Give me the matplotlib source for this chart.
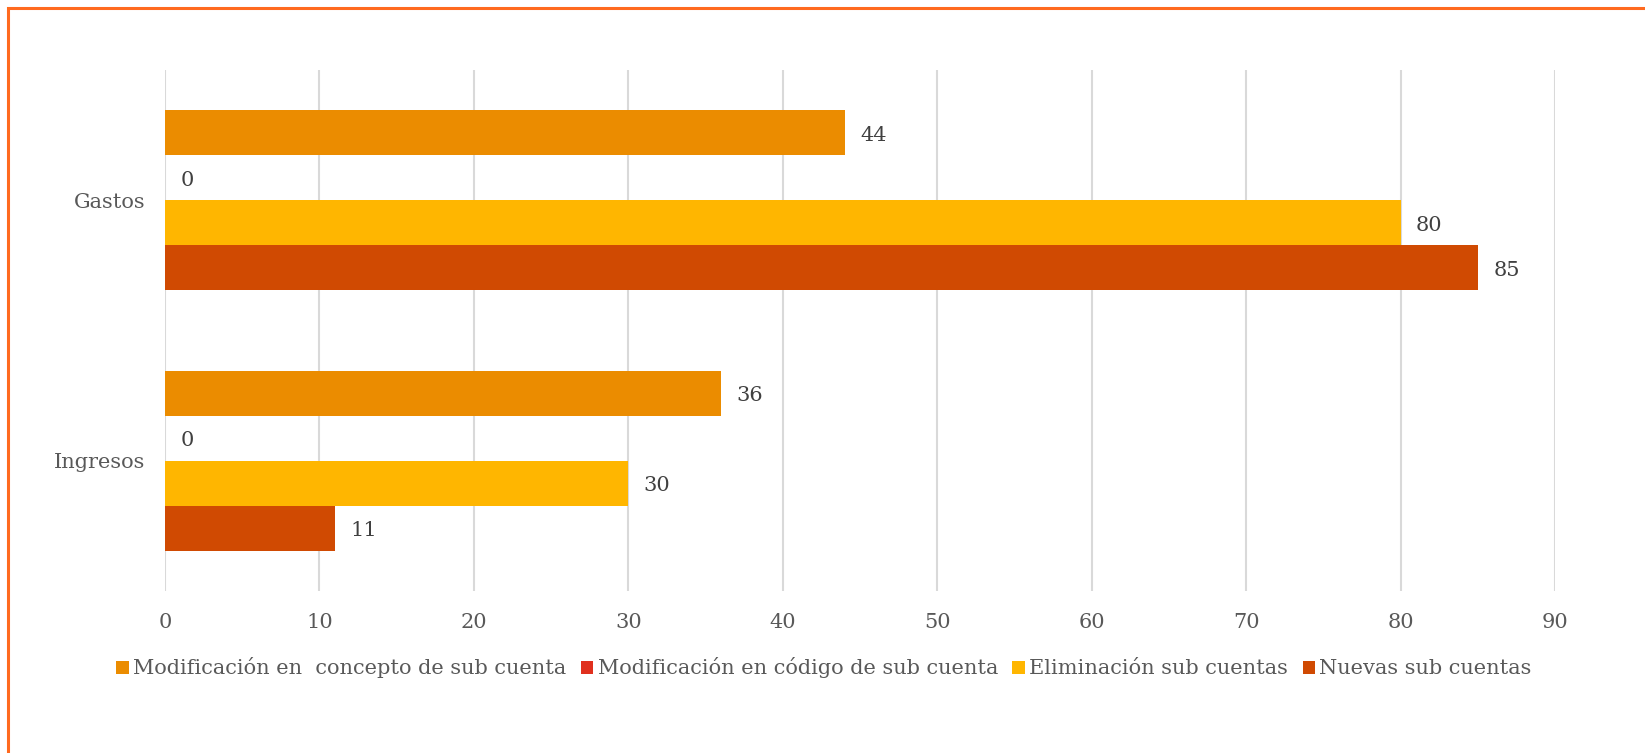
import matplotlib
matplotlib.use("Agg")
import matplotlib.pyplot as plt
from matplotlib.patches import Rectangle
import numpy as np

categories = ["Ingresos", "Gastos"]
series_names = ["Modificación en  concepto de sub cuenta",
                "Modificación en código de sub cuenta",
                "Eliminación sub cuentas",
                "Nuevas sub cuentas"]
concepto = [36, 44]
codigo = [0, 0]
eliminacion = [30, 80]
nuevas = [11, 85]
colors = ["#EB8C00", "#E0301E", "#FFB600", "#D04A02"]
xticks = [0, 10, 20, 30, 40, 50, 60, 70, 80, 90]

plt.rcParams['font.family'] = ['DejaVu Serif']
text_color = "#595959"

fig = plt.figure(figsize=(16.45, 7.53), dpi=100)
W, H = 1645, 753
ax = fig.add_axes([165 / W, 1 - 591 / H, (1555 - 165) / W, (591 - 70) / H])

values = [concepto, codigo, eliminacion, nuevas]
bh = 0.1724
y = np.arange(len(categories))
for i, (vals, name, c) in enumerate(zip(values, series_names, colors)):
    offs = (1.5 - i) * bh
    ax.barh(y + offs, vals, height=bh, color=c, label=name, edgecolor='none')
    for yy, v in zip(y + offs, vals):
        ax.text(v + 1.0, yy - 0.01, str(v), va='center', ha='left', fontsize=15, color="#404040")

ax.set_xlim(0, 90)
ax.set_ylim(-0.5, 1.5)
ax.set_xticks(xticks)
ax.set_xticklabels([str(t) for t in xticks], fontsize=15, color=text_color)
ax.set_yticks(y)
ax.set_yticklabels(categories, fontsize=15, color=text_color)
ax.tick_params(axis='both', length=0)
ax.tick_params(axis='x', pad=16)
ax.tick_params(axis='y', pad=14)
ax.grid(axis='x', color="#D9D9D9", linewidth=1.5)
ax.set_axisbelow(True)
for s in ax.spines.values():
    s.set_visible(False)

handles, labels = ax.get_legend_handles_labels()
leg = fig.legend(handles, labels, loc='center', bbox_to_anchor=(824 / W, 1 - 668 / H),
                 ncol=4, frameon=False, fontsize=15, handlelength=0.6, handleheight=0.6,
                 handletextpad=0.2, columnspacing=0.7)
for t in leg.get_texts():
    t.set_color(text_color)

fig.patches.append(Rectangle((8 / W, -0.1), 1.2, (1 - 8 / H) + 0.1, transform=fig.transFigure,
                             fill=False, edgecolor="#FF6A1F", linewidth=2.2))

fig.savefig("out.png", dpi=100)
